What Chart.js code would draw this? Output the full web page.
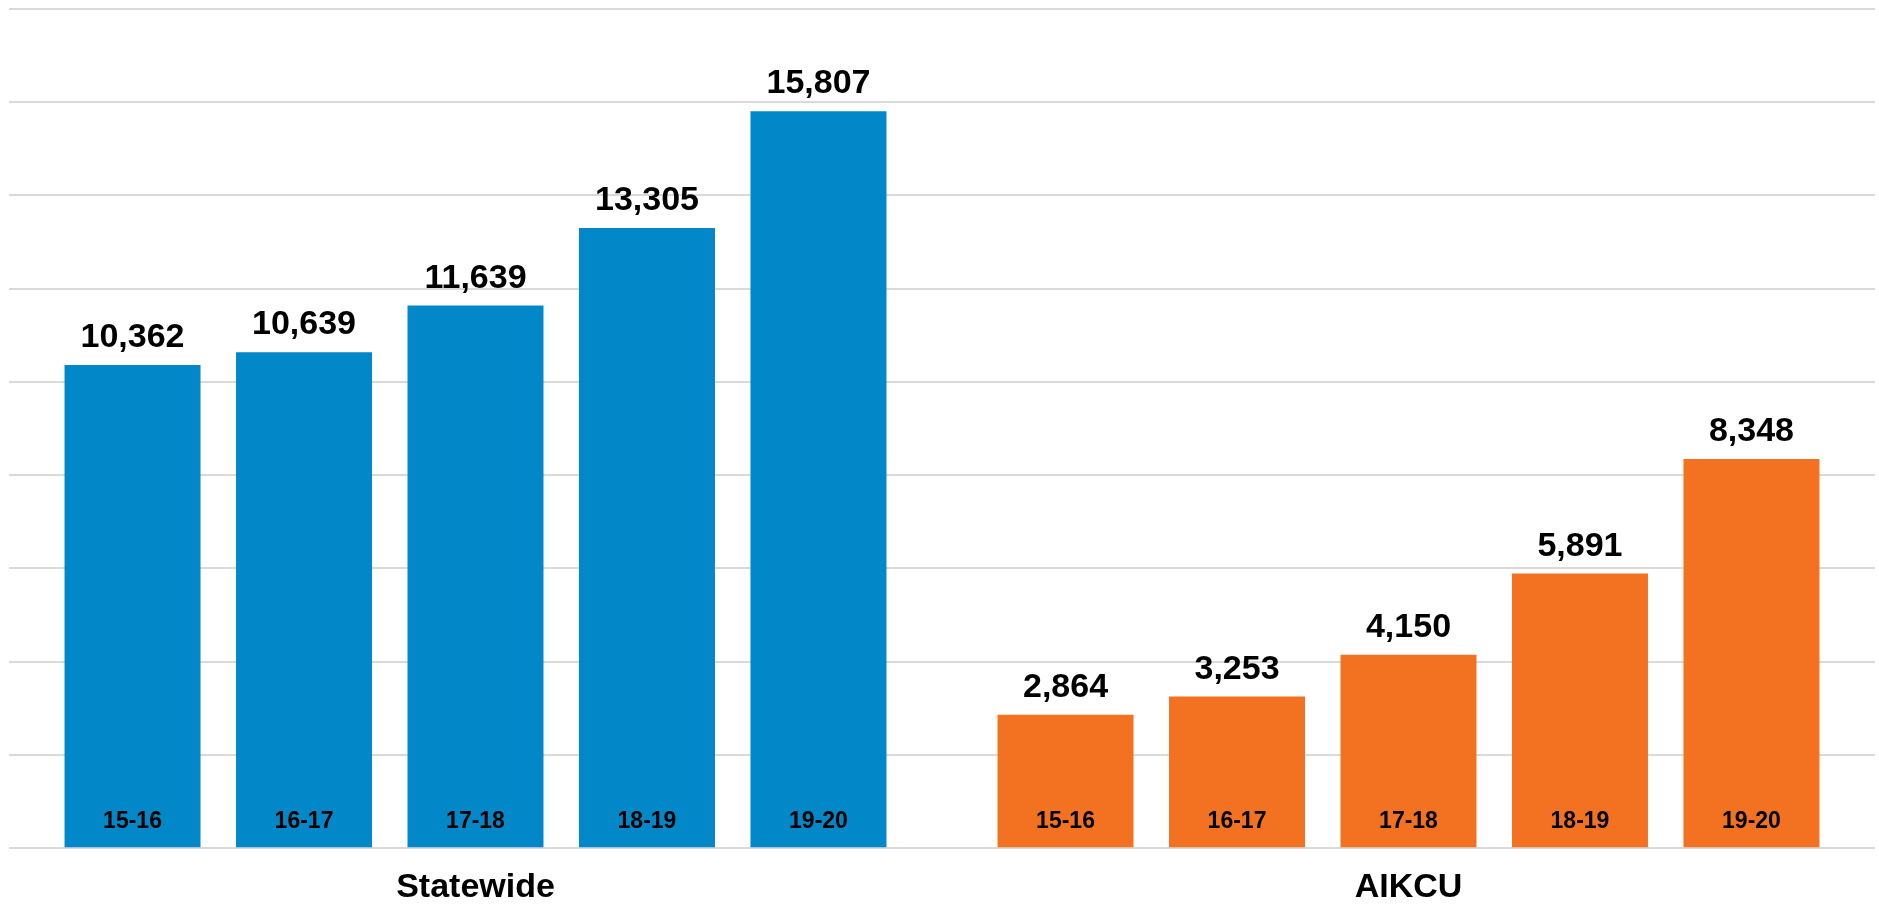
<!DOCTYPE html>
<html>
<head>
<meta charset="utf-8">
<title>Statewide vs AIKCU</title>
<script src="https://cdn.jsdelivr.net/npm/chart.js@4/dist/chart.umd.min.js"></script>
<style>
  html, body { margin: 0; padding: 0; background: #fff; }
  #wrap { width: 1879px; height: 905px; position: relative; }
</style>
</head>
<body>
<div id="wrap"><canvas id="chart"></canvas></div>
<script>
// Data
const groups = ['Statewide', 'AIKCU'];
const years = ['15-16', '16-17', '17-18', '18-19', '19-20'];
const statewideValues = [10362, 10639, 11639, 13305, 15807];
const aikcuValues = [2864, 3253, 4150, 5891, 8348];
const yMax = 18000;
const yStep = 2000;

const groupColors = ['#0288C8', '#F37222'];
const FONT = '"Liberation Sans", Arial, sans-serif';

// one dataset per year, one bar per group
const datasets = years.map((year, i) => ({
    label: year,
    data: [statewideValues[i], aikcuValues[i]],
    backgroundColor: groupColors,
    borderWidth: 0
}));

// Value labels above bars + year labels inside the bars
const barLabels = {
    id: 'barLabels',
    afterDatasetsDraw(chart) {
        const ctx = chart.ctx;
        const base = chart.scales.y.getPixelForValue(0);
        ctx.save();
        ctx.fillStyle = '#000';
        ctx.textAlign = 'center';
        chart.data.datasets.forEach((ds, di) => {
            const meta = chart.getDatasetMeta(di);
            meta.data.forEach((bar, i) => {
                ctx.font = 'bold 34px ' + FONT;
                ctx.textBaseline = 'alphabetic';
                ctx.fillText(ds.data[i].toLocaleString('en-US'), bar.x, bar.y - 18);
                ctx.font = 'bold 23px ' + FONT;
                ctx.textBaseline = 'middle';
                ctx.fillText(ds.label, bar.x, base - 27);
            });
        });
        ctx.restore();
    }
};

new Chart(document.getElementById('chart'), {
    type: 'bar',
    data: { labels: groups, datasets: datasets },
    options: {
        responsive: true,
        maintainAspectRatio: false,
        animation: false,
        categoryPercentage: 0.919,
        barPercentage: 0.793,
        // negative bottom padding: the axis reserves padding on both sides of its labels
        layout: { padding: { left: 9, right: 4, top: 9, bottom: -22 } },
        plugins: {
            legend: { display: false },
            tooltip: { enabled: false }
        },
        scales: {
            x: {
                grid: { display: false, drawTicks: false },
                border: { display: false },
                ticks: {
                    color: '#000',
                    padding: 19,
                    font: { family: FONT, size: 34, weight: 'bold' }
                }
            },
            y: {
                min: 0,
                max: yMax,
                ticks: { display: false, stepSize: yStep },
                grid: { color: '#d9d9d9', lineWidth: 2, drawTicks: false },
                border: { display: false }
            }
        }
    },
    plugins: [barLabels]
});
</script>
</body>
</html>
